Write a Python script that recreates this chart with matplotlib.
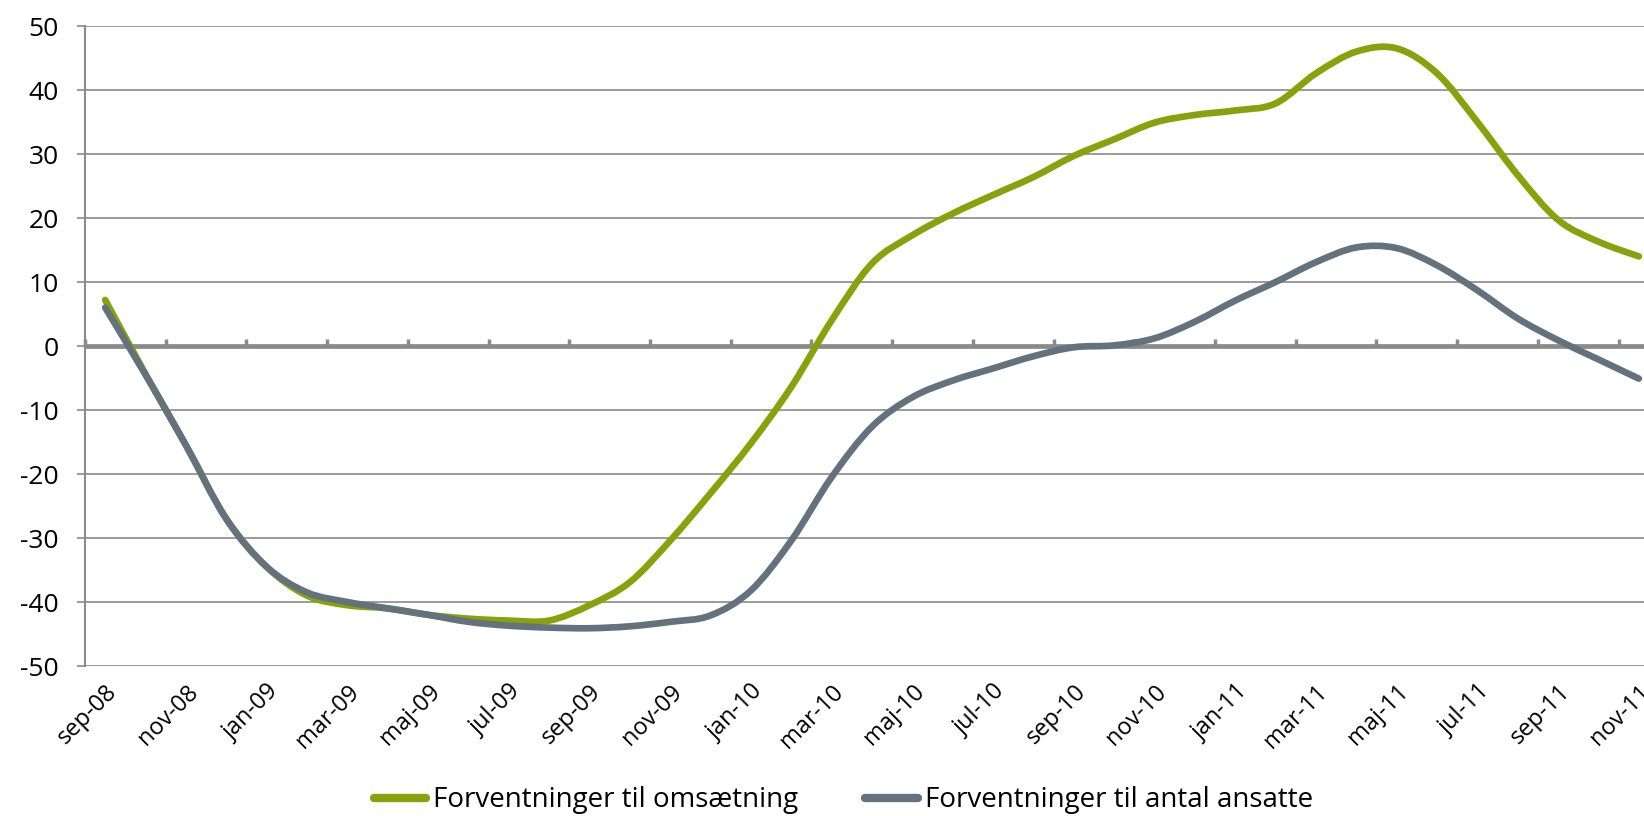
import matplotlib
matplotlib.use("Agg")
import matplotlib.pyplot as plt
from matplotlib.path import Path
from matplotlib.patches import PathPatch
from matplotlib.lines import Line2D

plt.rcParams['font.family'] = ['Open Sans', 'DejaVu Sans']
plt.rcParams['axes.unicode_minus'] = False

# maanedlige kategorier sep-08 .. nov-11
maaneder = ['jan', 'feb', 'mar', 'apr', 'maj', 'jun', 'jul', 'aug', 'sep', 'okt', 'nov', 'dec']
kategorier = []
for aar in (8, 9, 10, 11):
    for m, navn in enumerate(maaneder):
        if (aar == 8 and m < 8) or (aar == 11 and m > 10):
            continue
        kategorier.append(f"{navn}-{aar:02d}")

omsaetning = [7.2, -4.4, -15.5, -27, -34.5, -39, -40.5, -41, -42, -42.6,
              -42.9, -42.9, -40.5, -36.9, -30.4, -23, -15.2, -6.4, 4.0, 12.9,
              17.3, 20.7, 23.6, 26.4, 29.7, 32.3, 34.9, 36.1, 36.8, 37.9,
              42.6, 46.0, 46.5, 42.6, 35.0, 26.7, 19.7, 16.3, 14.0]
ansatte = [6.0, -4.5, -15.5, -27, -34.5, -38.5, -40, -41, -42, -43.1,
           -43.7, -44, -44.1, -43.8, -43.1, -42.1, -38.2, -30.4, -20.5, -12.6,
           -8.0, -5.4, -3.5, -1.6, -0.2, 0.1, 1.2, 3.8, 7.1, 10.0,
           13.1, 15.4, 15.3, 12.6, 8.7, 4.3, 0.9, -2.1, -5.1]

groen = '#87a20a'
graa = '#64727d'
linjefarve = '#8a8a8a'


def glat_sti(xs, ys):
    # udglattet linje som i Excel: bezier-kurver gennem punkterne
    pts = list(zip(xs, ys))
    verts = [pts[0]]
    codes = [Path.MOVETO]
    n = len(pts)
    for i in range(n - 1):
        p0 = pts[max(i - 1, 0)]
        p1 = pts[i]
        p2 = pts[i + 1]
        p3 = pts[min(i + 2, n - 1)]
        c1 = (p1[0] + (p2[0] - p0[0]) / 6, p1[1] + (p2[1] - p0[1]) / 6)
        c2 = (p2[0] - (p3[0] - p1[0]) / 6, p2[1] - (p3[1] - p1[1]) / 6)
        verts += [c1, c2, p2]
        codes += [Path.CURVE4] * 3
    return Path(verts, codes)


fig = plt.figure(figsize=(16.44, 8.16), dpi=100)
ax = fig.add_axes([85 / 1644, 1 - 666 / 816, 1574 / 1644, 640 / 816])

x = list(range(len(kategorier)))
for serie, farve, z in [(omsaetning, groen, 3), (ansatte, graa, 4)]:
    ax.add_patch(PathPatch(glat_sti(x, serie), facecolor='none', edgecolor=farve,
                           lw=4.8, capstyle='round', joinstyle='round', zorder=z))

ax.set_xlim(-0.5, len(kategorier) - 0.5)
ax.set_ylim(-50, 50)
ax.set_yticks(range(-50, 51, 10))
ax.grid(axis='y', color=linjefarve, lw=1.2)
ax.set_axisbelow(True)
ax.axhline(0, color=linjefarve, lw=3.4, zorder=2)

for s in ['top', 'right', 'bottom']:
    ax.spines[s].set_visible(False)
ax.spines['left'].set_color(linjefarve)
ax.spines['left'].set_linewidth(1.5)
ax.tick_params(axis='y', length=6, width=1.2, color=linjefarve, pad=13,
               labelsize=19, labelcolor='black')

# etiketter hver anden maaned
ax.set_xticks(x[::2])
ax.set_xticklabels(kategorier[::2], rotation=45, ha='right', va='top',
                   rotation_mode='anchor', fontsize=17)
ax.tick_params(axis='x', length=0, pad=10)

# tick marks paa nul-linjen
nul = ax.secondary_xaxis(0.5)
nul.set_xticks([i - 0.5 for i in x[::2]])
nul.set_xticklabels([])
nul.tick_params(axis='x', length=5, width=2.5, color=linjefarve, direction='out')

handles = [Line2D([], [], color=groen, lw=6, solid_capstyle='round'),
           Line2D([], [], color=graa, lw=6, solid_capstyle='round')]
fig.legend(handles, ['Forventninger til omsætning', 'Forventninger til antal ansatte'],
           loc='center', bbox_to_anchor=(0.513, 0.019), ncol=2, frameon=False,
           fontsize=20, handlelength=1.9, handletextpad=0.25, columnspacing=2.4)

fig.savefig('out.png', dpi=100)
